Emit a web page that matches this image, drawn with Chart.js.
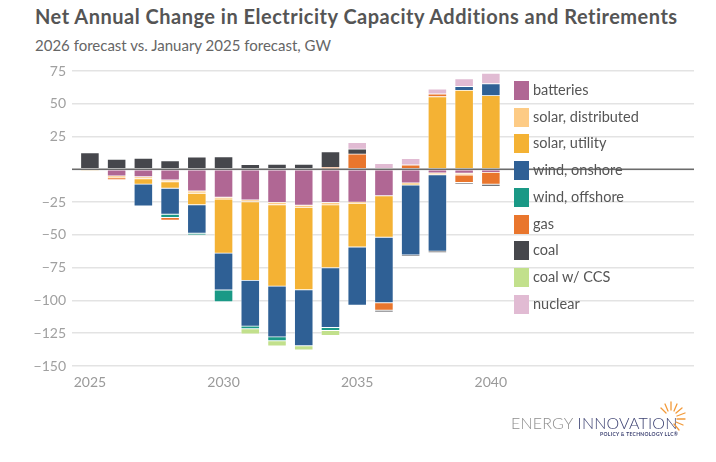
<!DOCTYPE html>
<html>
<head>
<meta charset="utf-8">
<script src="https://cdn.jsdelivr.net/npm/chart.js@4.4.1/dist/chart.umd.min.js"></script>
<style>
  body { margin: 0; background: #fff; font-family: Lato, "Open Sans", sans-serif; }
  #wrap { position: relative; width: 716px; height: 462px; overflow: hidden; }
  #grafico { position: absolute; left: 0; top: 0; }
  .titulo { position: absolute; left: 35px; top: 4px; font-size: 20px; letter-spacing: 0.5px; font-weight: 700; color: #555; white-space: nowrap; }
  .sub { position: absolute; left: 35px; top: 36px; font-size: 15px; color: #666; white-space: nowrap; }
  #leyenda { position: absolute; left: 514px; top: 0; }
  .item { position: absolute; left: 0; height: 20px; white-space: nowrap; }
  .item span.caja { position: absolute; left: 0; top: 0; width: 15px; height: 19px; }
  .item span.txt { position: absolute; left: 19px; top: -1px; font-size: 14.5px; color: #555; line-height: 20px; }
  .logo { position: absolute; left: 511px; top: 413px; font-size: 16px; font-weight: 300; white-space: nowrap; letter-spacing: 0.2px; }
  .logo .e { color: #8e8e8e; }
  .logo .i { color: #3d4272; }
  .logo2 { position: absolute; left: 600px; top: 431px; font-size: 5px; font-weight: 700; color: #3d4272; white-space: nowrap; letter-spacing: 0.3px; }
  #sol { position: absolute; left: 654px; top: 400px; }
</style>
</head>
<body>
<div id="wrap">
  <div class="titulo">Net Annual Change in Electricity Capacity Additions and Retirements</div>
  <div class="sub">2026 forecast vs. January 2025 forecast, GW</div>
  <canvas id="grafico" width="716" height="462"></canvas>
  <div id="leyenda"></div>
  <div class="logo"><span class="e">ENERGY </span><span class="i">INNOVATION</span></div>
  <div class="logo2">POLICY &amp; TECHNOLOGY LLC®</div>
  <svg id="sol" width="34" height="34" viewBox="0 0 34 34">
    <g stroke="#f29a3a" stroke-width="1.3" stroke-linecap="round">
      <line x1="17" y1="10" x2="17" y2="2"/>
      <line x1="20" y1="11" x2="23" y2="4"/>
      <line x1="22" y1="13" x2="28" y2="8"/>
      <line x1="23" y1="16" x2="31" y2="13"/>
      <line x1="23" y1="19" x2="31" y2="19"/>
      <line x1="22" y1="22" x2="29" y2="25"/>
      <line x1="20" y1="24" x2="25" y2="30"/>
      <line x1="14" y1="11" x2="11" y2="4"/>
      <line x1="12" y1="13" x2="7" y2="8"/>
    </g>
  </svg>
</div>
<script>
const anios = [2025, 2026, 2027, 2028, 2029, 2030, 2031, 2032, 2033, 2034, 2035, 2036, 2037, 2038, 2039, 2040];
const ticksX = [2025, 2030, 2035, 2040];

const baterias      = [0, -5, -5.6, -8.1, -16.5, -21.3, -23.3, -25.2, -27.4, -25.3, -25, -20.2, -10.4, -2.8, -3, -2.3];
const solarDist     = [0, -1.5, -1.6, -1.3, -1.8, -1.4, -1.4, -1.8, -1.6, -1.8, -0.8, 0, -0.9, -1.3, -1.3, 0];
const solarUtil     = [-0.5, 0, -4.1, -5, -8.7, -41.2, -60, -62.1, -62.8, -47.9, -33.4, -31.6, -0.6, 55.4, 60.2, 56.2];
const eolicaTierra  = [0, 0, -16.7, -19.8, -21.8, -28.1, -34.9, -38.7, -42.8, -45.7, -44.5, -49.9, -53.4, -58.4, 3, 9.1];
const eolicaMar     = [0, 0, 0, -2.6, -1.2, -8.9, -2, -3, 0, -2.2, 0, 0, 0, 0, 0, 0];
const gas           = [0, -1.5, 0, -2, 0, 0, 0, 0, 0, 1.5, 11.6, -5.8, 3.3, 2, -5.8, -9.1];
const carbon        = [12.6, 7.6, 8.4, 6.6, 9.3, 9.5, 3.6, 3.8, 3.8, 11.9, 3.8, -1.3, -0.8, -0.8, -1, -1.5];
const carbonCCS     = [0, 0, 0, 0, 0, 0, -4, -4, -3.2, -3.8, 0, 0, 0, 0, 0, 0];
const nuclear       = [0, 0, 0, 0, 0, 0, 0, 0, 0, 0, 5, 4.5, 5, 3.8, 5.8, 8];

const ticksY = [75, 50, 25, 0, -25, -50, -75, -100, -125, -150];

const series = [
  { label: 'batteries',          data: baterias,     color: '#b06794' },
  { label: 'solar, distributed', data: solarDist,    color: '#fdcb85' },
  { label: 'solar, utility',     data: solarUtil,    color: '#f4b234' },
  { label: 'wind, onshore',      data: eolicaTierra, color: '#2f6095' },
  { label: 'wind, offshore',     data: eolicaMar,    color: '#1a9986' },
  { label: 'gas',                data: gas,          color: '#e9762d' },
  { label: 'coal',               data: carbon,       color: '#46474c' },
  { label: 'coal w/ CCS',        data: carbonCCS,    color: '#c2e08c' },
  { label: 'nuclear',            data: nuclear,      color: '#e1bbd3' }
];

// linea del cero por encima de las barras
const lineaCero = {
  id: 'lineaCero',
  afterDatasetsDraw(chart) {
    const { ctx, chartArea, scales } = chart;
    const y0 = scales.y.getPixelForValue(0);
    ctx.save();
    ctx.strokeStyle = '#6b6b6b';
    ctx.lineWidth = 1.5;
    ctx.beginPath();
    ctx.moveTo(chartArea.left, y0);
    ctx.lineTo(chartArea.right, y0);
    ctx.stroke();
    ctx.restore();
  }
};

const chart = new Chart(document.getElementById('grafico'), {
  type: 'bar',
  data: {
    datasets: series.map(s => ({
      label: s.label,
      data: anios.map((a, i) => ({ x: a, y: s.data[i] })),
      backgroundColor: s.color,
      borderColor: 'rgba(255,255,255,0.35)',
      borderWidth: 0.8,
      borderSkipped: false,
      barThickness: 18.5
    }))
  },
  options: {
    responsive: false,
    animation: false,
    layout: { padding: { left: 0, right: 22, top: 71, bottom: 68 } },
    plugins: { legend: { display: false }, tooltip: { enabled: false } },
    scales: {
      x: {
        type: 'linear',
        stacked: true,
        offset: false,
        bounds: 'data',
        min: 2024.33,
        max: 2047.6,
        grid: { display: false, drawTicks: false, offset: false },
        border: { display: false },
        afterBuildTicks: axis => { axis.ticks = ticksX.map(v => ({ value: v })); },
        afterFit: axis => { axis.height = 28; },
        ticks: {
          color: '#9a9a9a',
          font: { family: 'Lato', size: 14 },
          padding: 8,
          maxRotation: 0,
          callback: v => String(v)
        }
      },
      y: {
        stacked: true,
        min: -150,
        max: 75,
        grid: { color: '#e3e3e3', lineWidth: 1.5, drawTicks: false },
        border: { display: false },
        afterBuildTicks: axis => { axis.ticks = ticksY.map(v => ({ value: v })); },
        afterFit: axis => { axis.width = 72; },
        ticks: {
          color: '#a0a0a0',
          font: { family: 'Lato', size: 14 },
          padding: 6,
          callback: v => v === 0 ? '' : (v < 0 ? '\u2212' + Math.abs(v) : String(v))
        }
      }
    }
  },
  plugins: [lineaCero]
});

// leyenda a la derecha, encima del area del grafico
const leyenda = document.getElementById('leyenda');
series.forEach((s, i) => {
  const item = document.createElement('div');
  item.className = 'item';
  item.style.top = (81 + i * 26.7) + 'px';
  item.innerHTML = '<span class="caja" style="background:' + s.color + '"></span><span class="txt">' + s.label + '</span>';
  leyenda.appendChild(item);
});
</script>
</body>
</html>
